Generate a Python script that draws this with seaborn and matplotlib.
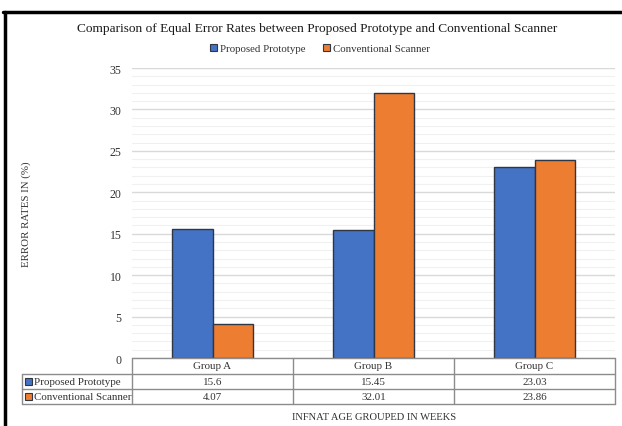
import matplotlib
matplotlib.use("Agg")
import matplotlib.pyplot as plt
from matplotlib.lines import Line2D
from matplotlib.patches import Rectangle, Patch
from matplotlib.ticker import MultipleLocator
import pandas as pd
import seaborn as sns

# --- data -------------------------------------------------------------
groups = ["Group A", "Group B", "Group C"]
series = ["Proposed Prototype", "Conventional Scanner"]
prototype_eer = [15.6, 15.45, 23.03]
scanner_eer = [4.07, 32.01, 23.86]
y_ticks = [0, 5, 10, 15, 20, 25, 30, 35]

title = "Comparison of Equal Error Rates between Proposed Prototype and Conventional Scanner"
x_label = "INFNAT AGE GROUPED IN WEEKS"
y_label = "ERROR RATES IN (%)"

colors = ["#4472C4", "#ED7D31"]
edge = "#2F3644"
text_col = "#333333"

df = pd.DataFrame({
    "group": groups * 2,
    "series": [series[0]] * 3 + [series[1]] * 3,
    "value": prototype_eer + scanner_eer,
})

sns.set_theme(style="white")
plt.rcParams["font.family"] = ["Liberation Serif", "DejaVu Serif"]

W, H = 622, 427
fig = plt.figure(figsize=(W / 100, H / 100), dpi=100)
fig.patch.set_facecolor("white")


def fx(px):
    return px / W


def fy(py):
    return 1 - py / H


# plot area
ax_l, ax_r, ax_t, ax_b = 132, 615, 69, 359
ax = fig.add_axes([fx(ax_l), fy(ax_b), (ax_r - ax_l) / W, (ax_b - ax_t) / H])

sns.barplot(data=df, x="group", y="value", hue="series", order=groups,
            hue_order=series, palette=colors, width=0.5, gap=0,
            edgecolor=edge, linewidth=1.0, saturation=1, ax=ax, legend=False)

ax.set_xlim(-0.5, 2.5)
ax.set_ylim(0, 35)
ax.set_yticks(y_ticks)
ax.yaxis.set_minor_locator(MultipleLocator(1))
ax.set_axisbelow(True)
ax.grid(which="major", axis="y", color="#D9D9D9", lw=1.0)
ax.grid(which="minor", axis="y", color="#F0F0F0", lw=0.8)
ax.grid(axis="x", visible=False)
for s in ax.spines.values():
    s.set_visible(False)
ax.tick_params(axis="y", which="both", length=0, pad=7.5, labelsize=8.5,
               labelcolor=text_col)
ax.tick_params(axis="x", which="both", length=0, labelbottom=False)
ax.set_xlabel("")
ax.set_ylabel("")

# title, legend, axis titles
fig.text(fx(317), fy(29), title, ha="center", va="center", fontsize=9.6,
         color="#1A1A1A")
handles = [Patch(facecolor=c, edgecolor=edge, lw=0.8) for c in colors]
fig.legend(handles, series, loc="center", bbox_to_anchor=(fx(320), fy(49.5)),
           ncol=2, frameon=False, fontsize=7.8, handlelength=0.7,
           handleheight=0.7, handletextpad=0.25, columnspacing=1.6,
           labelcolor=text_col)
fig.text(fx(26), fy(214), y_label, rotation=90, ha="center", va="center",
         fontsize=7.8, color=text_col)
fig.text(fx(374), fy(418), x_label, ha="center", va="center", fontsize=7.6,
         color=text_col)

# data table under the plot
grid_col = "#8C8C8C"
col_edges = [132, 293, 454, 615]
row_edges = [359, 375, 390, 405]
label_left = 22
table_fs = 7.9


def hline(x0, x1, y):
    fig.add_artist(Line2D([fx(x0), fx(x1)], [fy(y), fy(y)], color=grid_col,
                          lw=1.0, transform=fig.transFigure))


def vline(x, y0, y1):
    fig.add_artist(Line2D([fx(x), fx(x)], [fy(y0), fy(y1)], color=grid_col,
                          lw=1.0, transform=fig.transFigure))


hline(col_edges[0], col_edges[-1], row_edges[0])
for y in row_edges[1:]:
    hline(label_left, col_edges[-1], y)
for x in col_edges:
    vline(x, row_edges[0], row_edges[-1])
vline(label_left, row_edges[1], row_edges[-1])

for i, g in enumerate(groups):
    cx = (col_edges[i] + col_edges[i + 1]) / 2
    cy = (row_edges[0] + row_edges[1]) / 2
    fig.text(fx(cx), fy(cy), g, ha="center", va="center", fontsize=table_fs,
             color=text_col)

for r, (name, vals, c) in enumerate(zip(series, [prototype_eer, scanner_eer], colors)):
    cy = (row_edges[r + 1] + row_edges[r + 2]) / 2
    fig.add_artist(Rectangle((fx(label_left + 3), fy(cy + 3.5)), 7 / W, 7 / H,
                             facecolor=c, edgecolor=edge, lw=0.8,
                             transform=fig.transFigure))
    fig.text(fx(label_left + 11.5), fy(cy), name, ha="left", va="center",
             fontsize=table_fs, color=text_col)
    for i, v in enumerate(vals):
        cx = (col_edges[i] + col_edges[i + 1]) / 2
        fig.text(fx(cx), fy(cy), f"{v:g}", ha="center", va="center",
                 fontsize=table_fs, color=text_col)

# outer frame strokes (top and left)
fig.add_artist(Line2D([fx(3), fx(622)], [fy(13), fy(13)], color="black",
                      lw=2.5, transform=fig.transFigure))
fig.add_artist(Line2D([fx(4.5), fx(4.5)], [fy(13), fy(427)], color="black",
                      lw=2.5, transform=fig.transFigure))

fig.savefig("out.png", dpi=100, facecolor="white")
